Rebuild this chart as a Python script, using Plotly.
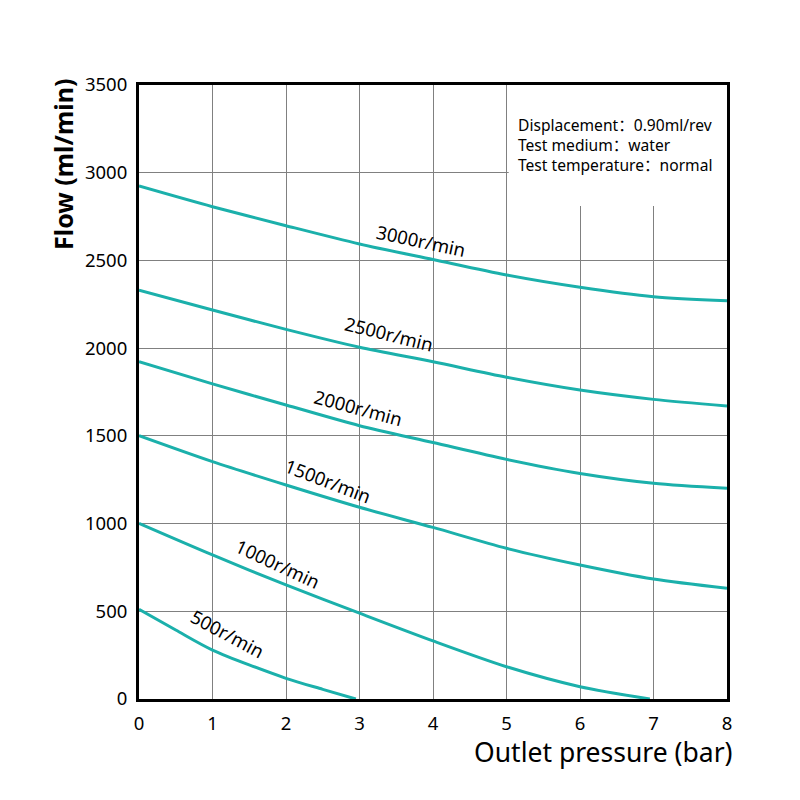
import plotly.graph_objects as go

# ---- data ----
pressure = [0, 1, 2, 3, 4, 5, 6, 7, 8]
flow_3000 = [2924, 2806, 2698, 2594, 2505, 2417, 2347, 2293, 2270]
flow_2500 = [2331, 2217, 2107, 2005, 1922, 1834, 1761, 1708, 1670]
flow_2000 = [1923, 1796, 1676, 1558, 1462, 1366, 1286, 1230, 1201]
flow_1500 = [1501, 1353, 1220, 1093, 978, 859, 764, 684, 631]
flow_1000_x = [0, 1, 2, 3, 4, 5, 6, 6.95]
flow_1000 = [1001, 821, 650, 489, 331, 184, 70, 0]
flow_500_x = [0, 0.5, 1, 2, 2.5, 2.95]
flow_500 = [511, 393, 279, 118, 55, 0]
speed_labels = ["3000r/min", "2500r/min", "2000r/min", "1500r/min", "1000r/min", "500r/min"]
x_ticks = [0, 1, 2, 3, 4, 5, 6, 7, 8]
y_ticks = [0, 500, 1000, 1500, 2000, 2500, 3000, 3500]
info_lines = ["Displacement：0.90ml/rev", "Test medium：water", "Test temperature：normal"]

series = [
    (pressure, flow_3000),
    (pressure, flow_2500),
    (pressure, flow_2000),
    (pressure, flow_1500),
    (flow_1000_x, flow_1000),
    (flow_500_x, flow_500),
]

FONT = "Noto Sans"
TEAL = "#1bb0ab"

fig = go.Figure()
for (xs, ys), name in zip(series, speed_labels):
    fig.add_trace(go.Scatter(x=xs, y=ys, mode="lines", name=name,
                             line=dict(color=TEAL, width=3, shape="spline", smoothing=0.8),
                             showlegend=False, hoverinfo="skip"))

# label placement (data coords) and angles
label_pos = [(3.84, 2616, 12), (3.40, 2086, 14), (2.98, 1659, 15),
             (2.57, 1248, 21), (1.89, 775, 25), (1.21, 376, 28)]
for text, (lx, ly, ang) in zip(speed_labels, label_pos):
    fig.add_annotation(x=lx, y=ly, text=text, textangle=ang, showarrow=False,
                       font=dict(family=FONT, size=18.5, color="black"))

# white box behind the info text (covers grid)
fig.add_shape(type="rect", xref="x", yref="y", x0=5.03, x1=8, y0=2810, y1=3500,
              fillcolor="white", line=dict(width=0), layer="between")

for i, line in enumerate(info_lines):
    fig.add_annotation(xref="paper", yref="paper", x=(516 - 139) / 588,
                       y=(699 - (124.5 + 20.5 * i)) / 614,
                       xanchor="left", yanchor="middle", align="left", showarrow=False,
                       text=line,
                       font=dict(family="Noto Sans, Noto Sans CJK SC", size=15.6, color="black"))

# axis titles
fig.add_annotation(xref="paper", yref="paper", x=(735 - 139) / 588, y=(699 - 752) / 614,
                   xanchor="right", yanchor="middle", showarrow=False,
                   text="Outlet pressure (bar)",
                   font=dict(family=FONT, size=26.5, color="black"))
fig.add_annotation(xref="paper", yref="paper", x=(63 - 139) / 588, y=(699 - 165) / 614,
                   xanchor="center", yanchor="middle", showarrow=False, textangle=-90,
                   text="<b>Flow (ml/min)</b>",
                   font=dict(family=FONT, size=25, color="black"))

fig.update_layout(
    width=800, height=800,
    margin=dict(l=139, r=73, t=85, b=101),
    plot_bgcolor="white", paper_bgcolor="white",
    font=dict(family=FONT, size=18, color="black"),
    xaxis=dict(range=[0, 8], tickvals=x_ticks, showgrid=True, gridcolor="#808080", gridwidth=1,
               showline=True, linecolor="black", linewidth=3, mirror=True, zeroline=False,
               ticks="", ticklabelstandoff=6, tickfont=dict(size=18.5, family=FONT)),
    yaxis=dict(range=[0, 3500], tickvals=y_ticks, showgrid=True, gridcolor="#808080", gridwidth=1,
               showline=True, linecolor="black", linewidth=3, mirror=True, zeroline=False,
               ticks="", ticklabelstandoff=5, tickfont=dict(size=18.5, family=FONT)),
)

fig.write_html("out.html")
